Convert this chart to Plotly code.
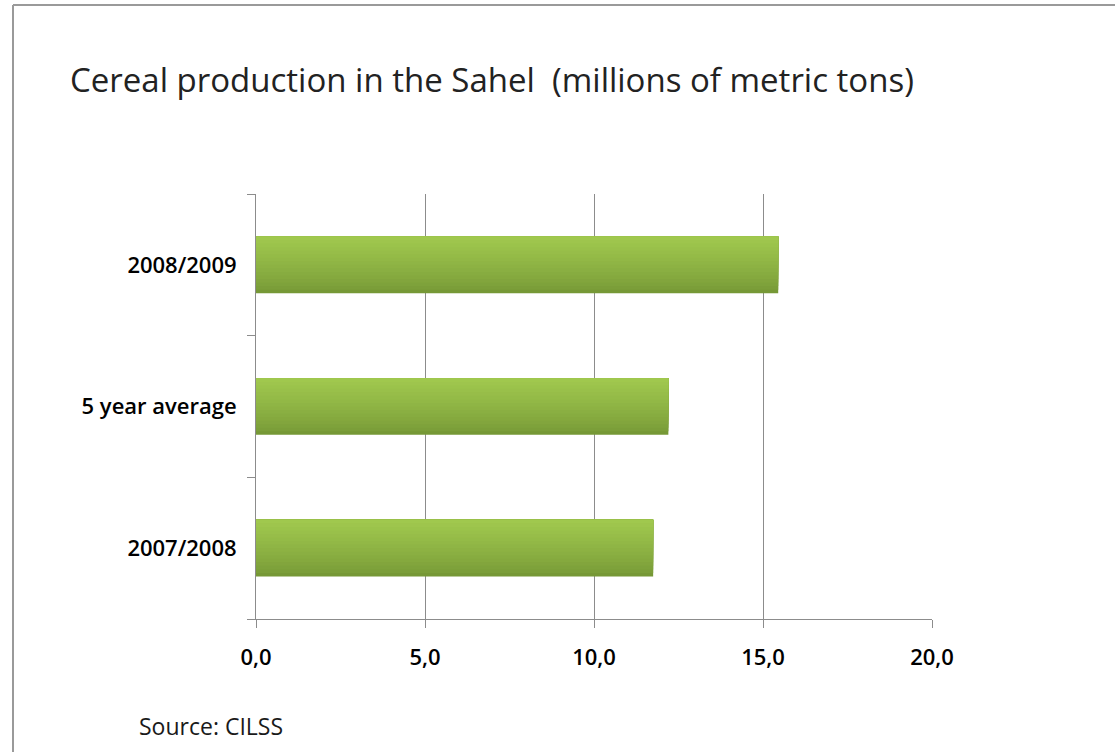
import plotly.graph_objects as go

# Cereal production in the Sahel, millions of metric tons
categories = ["2007/2008", "5 year average", "2008/2009"]
production = [11.75, 12.2, 15.45]
x_ticks = [0, 5, 10, 15, 20]

W, H = 1115, 752
M_L, M_R, M_T, M_B = 256, 183, 194, 133
plot_w = W - M_L - M_R
plot_h = H - M_T - M_B

FONT = "Open Sans"

fig = go.Figure()

# Shaded bars: a dark full-height bar, then progressively lighter bars that
# start higher up and run to the top edge, so the fill goes dark -> light.
bar_width = 0.40
n_steps = 16
dark = (118, 152, 54)
light = (160, 200, 78)
step = bar_width / n_steps
for i in range(n_steps):
    t = (i / (n_steps - 1)) ** 0.8
    c = tuple(round(dark[k] + (light[k] - dark[k]) * t) for k in range(3))
    fig.add_trace(go.Bar(
        y=categories,
        x=production,
        orientation="h",
        width=bar_width - i * step,
        offset=-bar_width / 2 + i * step,
        marker=dict(color="rgb(%d,%d,%d)" % c, line=dict(width=0)),
        hoverinfo="x+y",
        showlegend=False,
    ))

tick_font = dict(family=FONT, size=22, color="black", weight=600)

fig.update_layout(
    width=W,
    height=H,
    margin=dict(l=M_L, r=M_R, t=M_T, b=M_B),
    paper_bgcolor="white",
    plot_bgcolor="white",
    barmode="overlay",
    separators=", ",
    font=dict(family=FONT, color="black"),
    title=dict(
        text="Cereal production in the Sahel&nbsp;&nbsp;(millions of metric tons)",
        xref="container", yref="container",
        x=70 / W, xanchor="left",
        y=1 - 80 / H, yanchor="middle",
        font=dict(family=FONT, size=33, color="#222222"),
    ),
    xaxis=dict(
        range=[0, 20],
        tickvals=x_ticks,
        tickformat=".1f",
        showgrid=True,
        gridcolor="#8c8c8c",
        gridwidth=1,
        zeroline=False,
        showline=True,
        linecolor="#8c8c8c",
        linewidth=1,
        ticks="outside",
        ticklen=8,
        tickcolor="#8c8c8c",
        ticklabelstandoff=11,
        tickfont=tick_font,
        fixedrange=True,
    ),
    yaxis=dict(
        type="category",
        categoryorder="array",
        categoryarray=categories,
        range=[-0.5, 2.5],
        showgrid=False,
        zeroline=False,
        showline=True,
        linecolor="#8c8c8c",
        linewidth=1,
        ticks="outside",
        tickson="boundaries",
        ticklen=8,
        tickcolor="#8c8c8c",
        ticklabelstandoff=14,
        tickfont=tick_font,
        fixedrange=True,
    ),
    annotations=[
        dict(
            text="Source: CILSS",
            xref="paper", yref="paper",
            x=(137 - M_L) / plot_w, xanchor="left",
            y=(H - M_B - 726) / plot_h, yanchor="middle",
            showarrow=False,
            font=dict(family=FONT, size=23, color="#1a1a1a"),
        )
    ],
    shapes=[
        # chart frame (left and top edges)
        dict(type="line", xref="paper", yref="paper",
             x0=(13 - M_L) / plot_w, x1=(W + 10 - M_L) / plot_w,
             y0=(H - M_B - 5) / plot_h, y1=(H - M_B - 5) / plot_h,
             line=dict(color="#9a9a9a", width=2), layer="above"),
        dict(type="line", xref="paper", yref="paper",
             x0=(13 - M_L) / plot_w, x1=(13 - M_L) / plot_w,
             y0=(H - M_B - 5) / plot_h, y1=(H - M_B - H - 10) / plot_h,
             line=dict(color="#9a9a9a", width=2), layer="above"),
    ],
)

fig.write_html("out.html")
